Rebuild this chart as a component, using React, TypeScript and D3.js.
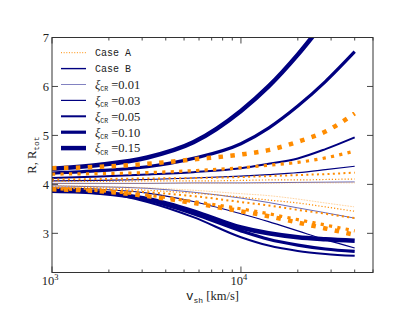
import { curveMonotoneX, line, scaleLinear, scaleLog } from "d3";

// shock velocity samples (km/s)
const vsh = [1000, 1800, 3200, 5600, 10000, 14000, 20000, 28000, 40000];

const xiLabels = ["0.01", "0.03", "0.05", "0.10", "0.15"];
const lineWidths = [0.6, 1.2, 2.0, 3.2, 4.5];

// Case B, total compression R_tot (one row per xi)
const rTotB = [
  [4.02, 4.02, 4.02, 4.03, 4.03, 4.035, 4.04, 4.045, 4.05],
  [4.07, 4.08, 4.1, 4.13, 4.17, 4.2, 4.24, 4.3, 4.37],
  [4.13, 4.16, 4.2, 4.25, 4.33, 4.42, 4.53, 4.72, 4.96],
  [4.23, 4.28, 4.36, 4.53, 4.83, 5.15, 5.6, 6.1, 6.71],
  [4.32, 4.4, 4.55, 4.86, 5.5, 6.0, 6.65, 7.35, 8.1],
];

// Case B, subshock compression R
const rB = [
  [3.97, 3.95, 3.92, 3.84, 3.72, 3.63, 3.52, 3.42, 3.31],
  [3.93, 3.9, 3.82, 3.65, 3.4, 3.24, 3.05, 2.87, 2.7],
  [3.9, 3.84, 3.64, 3.33, 2.92, 2.75, 2.64, 2.58, 2.54],
  [3.88, 3.84, 3.68, 3.4, 3.05, 2.88, 2.76, 2.68, 2.63],
  [3.87, 3.83, 3.7, 3.45, 3.12, 3.0, 2.92, 2.88, 2.85],
];

// Case A, total compression R_tot
const rTotA = [
  [4.02, 4.02, 4.02, 4.02, 4.02, 4.02, 4.03, 4.03, 4.03],
  [4.06, 4.06, 4.07, 4.07, 4.08, 4.09, 4.09, 4.1, 4.11],
  [4.1, 4.11, 4.12, 4.13, 4.15, 4.17, 4.19, 4.21, 4.24],
  [4.21, 4.22, 4.24, 4.28, 4.34, 4.39, 4.45, 4.54, 4.68],
  [4.33, 4.36, 4.42, 4.51, 4.61, 4.7, 4.87, 5.08, 5.45],
];

// Case A, subshock compression R
const rA = [
  [3.98, 3.96, 3.93, 3.88, 3.81, 3.77, 3.7, 3.62, 3.54],
  [3.95, 3.93, 3.88, 3.82, 3.74, 3.68, 3.62, 3.54, 3.45],
  [3.93, 3.9, 3.84, 3.76, 3.64, 3.57, 3.48, 3.4, 3.31],
  [3.91, 3.87, 3.78, 3.65, 3.5, 3.4, 3.28, 3.17, 3.05],
  [3.9, 3.86, 3.76, 3.62, 3.45, 3.35, 3.22, 3.1, 2.97],
];

const yTicks = [3, 4, 5, 6, 7];
const xMajor = [1000, 10000];
const xMinor = [2000, 3000, 4000, 5000, 6000, 7000, 8000, 9000, 20000, 30000, 40000, 50000];

const NAVY = "#000080";
const ORANGE = "#ff8c00";
const SERIF = "'Liberation Serif', 'DejaVu Serif', serif";
const MONO = "'Liberation Mono', 'DejaVu Sans Mono', monospace";

export default function App() {
  const width = 415;
  const height = 312;
  const left = 52;
  const right = 373;
  const top = 37.5;
  const bottom = 272.5;

  const x = scaleLog().domain([1000, 50000]).range([left, right]);
  const y = scaleLinear().domain([2.2, 7]).range([bottom, top]);

  const path = line<number>()
    .x((_, i) => x(vsh[i]))
    .y((d) => y(d))
    .curve(curveMonotoneX);

  const legendY = (i: number) => 52.7 + i * 15.9;

  return (
    <svg
      width={width}
      height={height}
      style={{ position: "absolute", left: 0, top: 0, background: "#fff" }}
    >
      <defs>
        <clipPath id="plot">
          <rect x={left} y={top} width={right - left} height={bottom - top} />
        </clipPath>
      </defs>

      <g clipPath="url(#plot)" fill="none">
        {[...rB, ...rTotB].map((s, i) => (
          <path key={`b${i}`} d={path(s) ?? ""} stroke={NAVY} strokeWidth={lineWidths[i % 5]} />
        ))}
        {[...rA, ...rTotA].map((s, i) => {
          const w = lineWidths[i % 5];
          return (
            <path
              key={`a${i}`}
              d={path(s) ?? ""}
              stroke={ORANGE}
              strokeWidth={w}
              strokeDasharray={`${w} ${1.65 * w}`}
            />
          );
        })}
      </g>

      {/* frame */}
      <rect x={left} y={top} width={right - left} height={bottom - top} fill="none" stroke="#333" strokeWidth="1" />

      {/* ticks */}
      <g stroke="#333" strokeWidth="0.9">
        {yTicks.map((t) => (
          <g key={t}>
            <line x1={left} x2={left + 6} y1={y(t)} y2={y(t)} />
            <line x1={right} x2={right - 6} y1={y(t)} y2={y(t)} />
          </g>
        ))}
        {xMajor.map((t) => (
          <g key={t}>
            <line x1={x(t)} x2={x(t)} y1={bottom} y2={bottom - 6} />
            <line x1={x(t)} x2={x(t)} y1={top} y2={top + 6} />
          </g>
        ))}
        {xMinor.map((t) => (
          <g key={t}>
            <line x1={x(t)} x2={x(t)} y1={bottom} y2={bottom - 3} />
            <line x1={x(t)} x2={x(t)} y1={top} y2={top + 3} />
          </g>
        ))}
      </g>

      <g fontFamily={SERIF} fontSize="12.5" fill="#222">
        {yTicks.map((t) => (
          <text key={t} x={left - 3} y={y(t)} dy="0.35em" textAnchor="end">
            {t}
          </text>
        ))}
        {xMajor.map((t) => (
          <text key={t} x={x(t) - 2} y={285} textAnchor="middle">
            10
            <tspan fontSize="8.5" dy="-5">
              {Math.round(Math.log10(t))}
            </tspan>
          </text>
        ))}
        <text x={(left + right) / 2} y={300} textAnchor="middle">
          <tspan fontFamily={MONO}>v</tspan>
          <tspan fontFamily={MONO} fontSize="8" dy="3">sh</tspan>
          <tspan dy="-3"> [km/s]</tspan>
        </text>
        <text transform={`translate(36, ${(top + bottom) / 2}) rotate(-90)`} textAnchor="middle">
          R, R
          <tspan fontFamily={MONO} fontSize="8" dy="3">tot</tspan>
        </text>
      </g>

      {/* legend */}
      <g>
        <line x1={61} x2={86} y1={legendY(0)} y2={legendY(0)} stroke={ORANGE} strokeWidth="1" strokeDasharray="1 1.65" />
        <text x={95} y={legendY(0)} dy="0.35em" fontFamily={MONO} fontSize="10" fill="#222">Case A</text>
        <line x1={61} x2={86} y1={legendY(1)} y2={legendY(1)} stroke={NAVY} strokeWidth="1.4" />
        <text x={95} y={legendY(1)} dy="0.35em" fontFamily={MONO} fontSize="10" fill="#222">Case B</text>
        {xiLabels.map((lab, i) => (
          <g key={lab}>
            <line x1={61} x2={86} y1={legendY(i + 2)} y2={legendY(i + 2)} stroke={NAVY} strokeWidth={Math.max(lineWidths[i], 0.9)} strokeOpacity={i === 0 ? 0.55 : 1} />
            <text x={95} y={legendY(i + 2)} dy="0.35em" fontFamily={SERIF} fontSize="12.5" fill="#222">
              <tspan fontStyle="italic">ξ</tspan>
              <tspan fontFamily={MONO} fontSize="6.5" dy="2.5">CR</tspan>
              <tspan dy="-2.5"> =</tspan>
              {lab}
            </text>
          </g>
        ))}
      </g>
    </svg>
  );
}
